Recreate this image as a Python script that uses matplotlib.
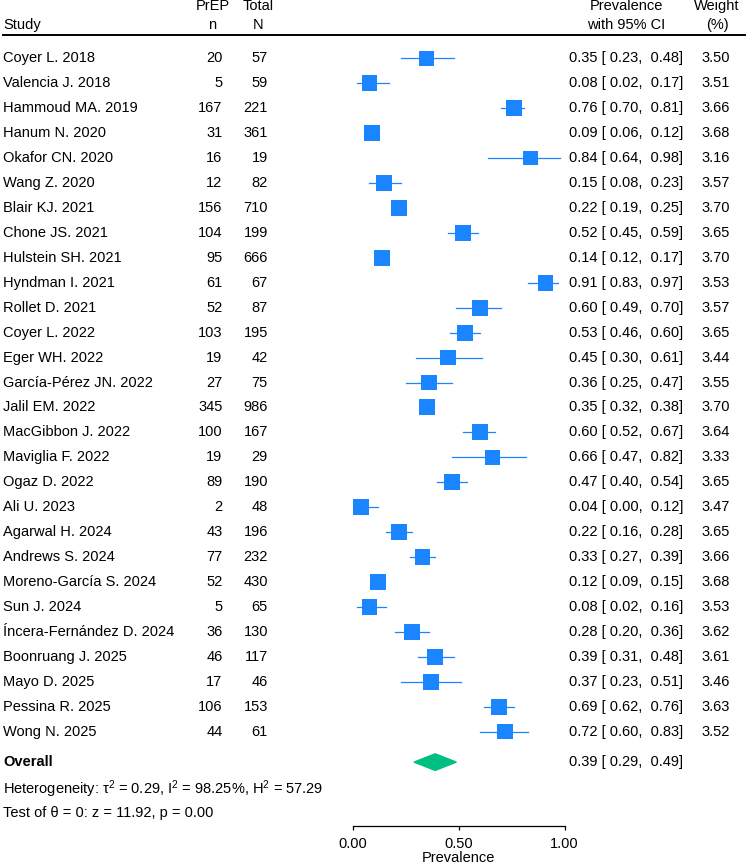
import matplotlib
matplotlib.use("Agg")
import matplotlib.pyplot as plt
from matplotlib.patches import Polygon
from matplotlib.transforms import blended_transform_factory

plt.rcParams['font.family'] = ['Liberation Sans', 'DejaVu Sans']
plt.rcParams['mathtext.fontset'] = 'custom'
plt.rcParams['mathtext.rm'] = 'Liberation Sans'
plt.rcParams['mathtext.it'] = 'Liberation Sans:italic'

# study data
studies = ["Coyer L. 2018", "Valencia J. 2018", "Hammoud MA. 2019", "Hanum N. 2020",
           "Okafor CN. 2020", "Wang Z. 2020", "Blair KJ. 2021", "Chone JS. 2021",
           "Hulstein SH. 2021", "Hyndman I. 2021", "Rollet D. 2021", "Coyer L. 2022",
           "Eger WH. 2022", "García-Pérez JN. 2022", "Jalil EM. 2022", "MacGibbon J. 2022",
           "Maviglia F. 2022", "Ogaz D. 2022", "Ali U. 2023", "Agarwal H. 2024",
           "Andrews S. 2024", "Moreno-García S. 2024", "Sun J. 2024",
           "Íncera-Fernández D. 2024", "Boonruang J. 2025", "Mayo D. 2025",
           "Pessina R. 2025", "Wong N. 2025"]
prep_n = [20, 5, 167, 31, 16, 12, 156, 104, 95, 61, 52, 103, 19, 27, 345, 100,
          19, 89, 2, 43, 77, 52, 5, 36, 46, 17, 106, 44]
total_n = [57, 59, 221, 361, 19, 82, 710, 199, 666, 67, 87, 195, 42, 75, 986, 167,
           29, 190, 48, 196, 232, 430, 65, 130, 117, 46, 153, 61]
prev = [0.35, 0.08, 0.76, 0.09, 0.84, 0.15, 0.22, 0.52, 0.14, 0.91, 0.60, 0.53,
        0.45, 0.36, 0.35, 0.60, 0.66, 0.47, 0.04, 0.22, 0.33, 0.12, 0.08, 0.28,
        0.39, 0.37, 0.69, 0.72]
ci_low = [0.23, 0.02, 0.70, 0.06, 0.64, 0.08, 0.19, 0.45, 0.12, 0.83, 0.49, 0.46,
          0.30, 0.25, 0.32, 0.52, 0.47, 0.40, 0.00, 0.16, 0.27, 0.09, 0.02, 0.20,
          0.31, 0.23, 0.62, 0.60]
ci_high = [0.48, 0.17, 0.81, 0.12, 0.98, 0.23, 0.25, 0.59, 0.17, 0.97, 0.70, 0.60,
           0.61, 0.47, 0.38, 0.67, 0.82, 0.54, 0.12, 0.28, 0.39, 0.15, 0.16, 0.36,
           0.48, 0.51, 0.76, 0.83]
weights = [3.50, 3.51, 3.66, 3.68, 3.16, 3.57, 3.70, 3.65, 3.70, 3.53, 3.57, 3.65,
           3.44, 3.55, 3.70, 3.64, 3.33, 3.65, 3.47, 3.65, 3.66, 3.68, 3.53, 3.62,
           3.61, 3.46, 3.63, 3.52]

overall = 0.39
overall_low = 0.29
overall_high = 0.49

W, H = 747, 865
fig = plt.figure(figsize=(W / 100, H / 100), dpi=100)

# plot area: 0 -> x=352.5px, 1 -> x=564.5px, axis line at y=825.7px
row0, step = 58.3, 24.94
ax = fig.add_axes([352.5 / W, (H - 825.7) / H, 212 / W, 825.7 / H])
ax.set_xlim(0, 1)
ax.set_ylim((825.7 - row0) / step, -row0 / step)
for s in ['left', 'right', 'top']:
    ax.spines[s].set_visible(False)
ax.spines['bottom'].set_linewidth(0.9)
ax.set_yticks([])
ax.set_xticks([0, 0.5, 1.0])
ax.set_xticklabels(["0.00", "0.50", "1.00"])
ax.tick_params(axis='x', length=3, width=0.9, labelsize=10.5, pad=5)
ax.set_xlabel("Prevalence", fontsize=10.5, labelpad=0)
ax.patch.set_visible(False)

fs = 10.5
blue = "#1a85ff"
green = "#00bf80"

rows = list(range(len(studies)))
for i in rows:
    ax.plot([ci_low[i], ci_high[i]], [i, i], color=blue, lw=0.9, clip_on=False)
ax.scatter(prev, rows, marker='s', s=[132 * w / 3.70 for w in weights],
           color=blue, edgecolors='none', zorder=3, clip_on=False)

ov_row = 28.22
h = 8.3 / step
ax.add_patch(Polygon([(overall_low, ov_row), (overall, ov_row - h),
                      (overall_high, ov_row), (overall, ov_row + h)],
                     closed=True, color=green, clip_on=False))

tr = blended_transform_factory(fig.transFigure, ax.transData)
def fx(px):
    return px / W

# header
hdr1, hdr2 = -2.08, -1.33
ax.text(fx(3), hdr2, "Study", transform=tr, fontsize=fs, va='center', ha='left')
ax.text(fx(212.5), hdr1, "PrEP", transform=tr, fontsize=fs, va='center', ha='center')
ax.text(fx(212.5), hdr2, "n", transform=tr, fontsize=fs, va='center', ha='center')
ax.text(fx(258.5), hdr1, "Total", transform=tr, fontsize=fs, va='center', ha='center')
ax.text(fx(258.5), hdr2, "N", transform=tr, fontsize=fs, va='center', ha='center')
ax.text(fx(626), hdr1, "Prevalence", transform=tr, fontsize=fs, va='center', ha='center')
ax.text(fx(626), hdr2, "with 95% CI", transform=tr, fontsize=fs, va='center', ha='center')
ax.text(fx(717), hdr1, "Weight", transform=tr, fontsize=fs, va='center', ha='center')
ax.text(fx(717), hdr2, "(%)", transform=tr, fontsize=fs, va='center', ha='center')
ax.plot([fx(3), fx(745)], [-0.934, -0.934], transform=tr, color='black', lw=1.4,
        clip_on=False)

# study rows
for i in rows:
    ax.text(fx(3), i, studies[i], transform=tr, fontsize=fs, va='center', ha='left')
    ax.text(fx(222.5), i, str(prep_n[i]), transform=tr, fontsize=fs, va='center', ha='right')
    ax.text(fx(268), i, str(total_n[i]), transform=tr, fontsize=fs, va='center', ha='right')
    ax.text(fx(569), i, f"{prev[i]:.2f} [ {ci_low[i]:.2f},  {ci_high[i]:.2f}]",
            transform=tr, fontsize=fs, va='center', ha='left')
    ax.text(fx(729.5), i, f"{weights[i]:.2f}", transform=tr, fontsize=fs,
            va='center', ha='right')

# overall and stats
ax.text(fx(3), ov_row, "Overall", transform=tr, fontsize=fs, fontweight='bold',
        va='center', ha='left')
ax.text(fx(569), ov_row, f"{overall:.2f} [ {overall_low:.2f},  {overall_high:.2f}]",
        transform=tr, fontsize=fs, va='center', ha='left')
ax.text(fx(3), 29.30,
        r"Heterogeneity: τ${}^{2}$ = 0.29, I${}^{2}$ = 98.25%, H${}^{2}$ = 57.29",
        transform=tr, fontsize=fs, va='center', ha='left')
ax.text(fx(3), 30.25, "Test of θ = 0: z = 11.92, p = 0.00", transform=tr,
        fontsize=fs, va='center', ha='left')

fig.savefig("out.png", dpi=100)
